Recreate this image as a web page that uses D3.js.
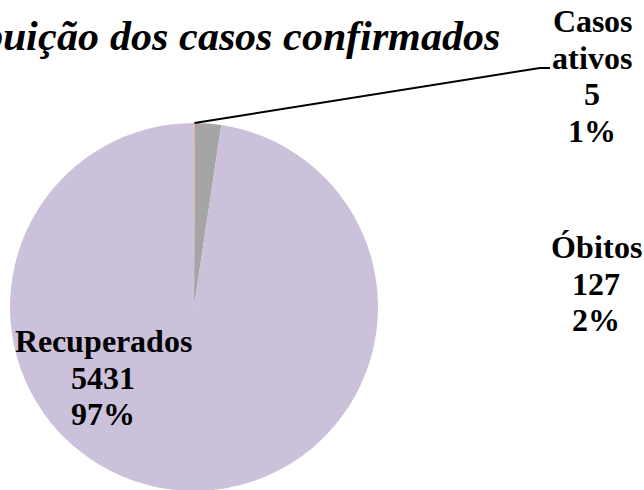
<!DOCTYPE html>
<html>
<head>
<meta charset="utf-8">
<script src="https://cdn.jsdelivr.net/npm/d3@7"></script>
<style>
  @font-face { font-family: "ChartSerif"; src: local("Liberation Serif Bold"), local("LiberationSerif-Bold"); font-weight: bold; font-style: normal; }
  @font-face { font-family: "ChartSerif"; src: local("Liberation Serif Bold Italic"), local("LiberationSerif-BoldItalic"); font-weight: bold; font-style: italic; }
  html, body { margin: 0; padding: 0; background: #ffffff; }
  svg { display: block; }
</style>
</head>
<body>
<svg id="chart" width="644" height="490"></svg>
<script>
const chartTitle = "Distribuição dos casos confirmados";
const categories = ["Casos ativos", "Óbitos", "Recuperados"];
const values = [5, 127, 5431];
const percentLabels = ["1%", "2%", "97%"];
const colors = ["#F4B183", "#A5A5A5", "#CBC1DA"];

const FONT = "ChartSerif, Liberation Serif, Times New Roman, serif";

const svg = d3.select("#chart");
const cx = 194, cy = 307, r = 184;

const pie = d3.pie().sort(null).value(d => d.value);
const slices = pie(categories.map((c, i) => ({ name: c, value: values[i], pct: percentLabels[i], color: colors[i] })));
const arc = d3.arc().innerRadius(0).outerRadius(r);

const g = svg.append("g").attr("transform", `translate(${cx},${cy})`);
g.selectAll("path").data(slices).enter().append("path")
  .attr("d", arc)
  .attr("fill", d => d.data.color);

svg.append("text")
  .attr("x", 500).attr("y", 50)
  .attr("text-anchor", "end")
  .attr("font-family", FONT)
  .attr("font-weight", "bold")
  .attr("font-style", "italic")
  .attr("font-size", 42)
  .text(chartTitle);

const labelPos = [
  { x: 592, y: 32, lines: ["Casos", "ativos"] },
  { x: 596, y: 258, lines: ["Óbitos"] },
  { x: 103, y: 352, lines: ["Recuperados"] }
];
const lh = 36.5;

slices.forEach((d, i) => {
  const p = labelPos[i];
  const lines = p.lines.concat([String(d.data.value), d.data.pct]);
  lines.forEach((ln, k) => {
    svg.append("text")
      .attr("x", p.x).attr("y", p.y + k * lh)
      .attr("text-anchor", "middle")
      .attr("font-family", FONT)
      .attr("font-weight", "bold")
      .attr("font-size", 32)
      .text(ln);
  });
});

// leader line for Casos ativos
const a0 = slices[0];
const mid = (a0.startAngle + a0.endAngle) / 2;
const sx = cx + r * Math.sin(mid), sy = cy - r * Math.cos(mid);
svg.append("polyline")
  .attr("points", `${sx},${sy} 540,68 550,68`)
  .attr("fill", "none")
  .attr("stroke", "#000")
  .attr("stroke-width", 2);
</script>
</body>
</html>
